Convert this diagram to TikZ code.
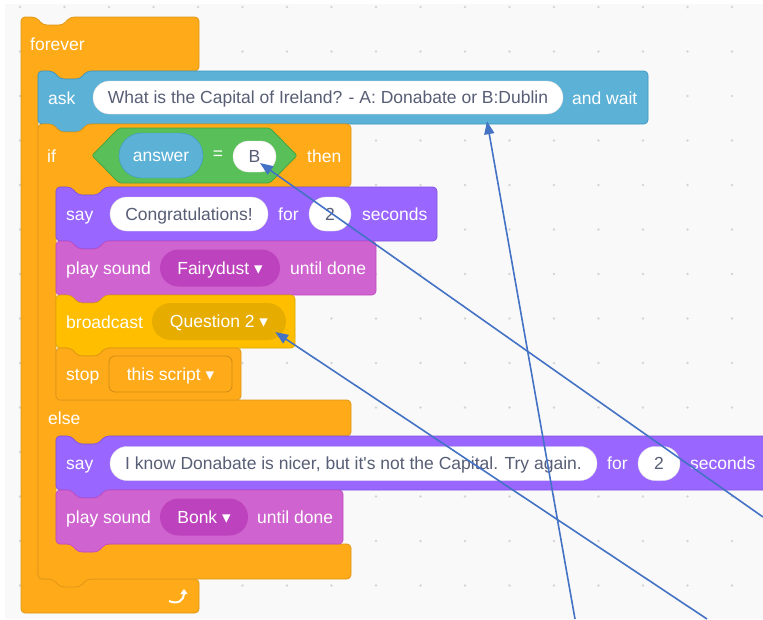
\documentclass[tikz,border=0pt]{standalone}
\usepackage{fontspec}
\setmainfont{Liberation Sans}
\newfontfamily\caretfont{DejaVu Sans}
\usepackage{tikz}
\usetikzlibrary{shapes.misc,arrows.meta,calc}
\pgfdeclarelayer{gridlayer}
\pgfdeclarelayer{blocklayer}
\pgfdeclarelayer{nodelayer}
\pgfsetlayers{gridlayer,blocklayer,nodelayer,main}
\definecolor{ctrl}{HTML}{FFAB19}
\definecolor{ctrldark}{HTML}{CF8B17}
\definecolor{sens}{HTML}{5CB1D6}
\definecolor{sensdark}{HTML}{2E8EB8}
\definecolor{oper}{HTML}{59C059}
\definecolor{operdark}{HTML}{389438}
\definecolor{looks}{HTML}{9966FF}
\definecolor{looksdark}{HTML}{774DCB}
\definecolor{sound}{HTML}{CF63CF}
\definecolor{sounddark}{HTML}{BD42BD}
\definecolor{event}{HTML}{FFBF00}
\definecolor{eventdark}{HTML}{CC9900}
\definecolor{eventmenu}{HTML}{E6AC00}
\definecolor{inputtext}{HTML}{575E75}
\definecolor{canvas}{HTML}{F9F9F9}
\definecolor{griddot}{HTML}{D6D6D6}
\definecolor{pointer}{HTML}{4472C4}
\tikzstyle{ctrlblock}=[fill=ctrl, draw=ctrldark!70!ctrl, line width=0.7pt]
\tikzstyle{sensblock}=[fill=sens, draw=sensdark!70!sens, line width=0.7pt]
\tikzstyle{operblock}=[fill=oper, draw=operdark!70!oper, line width=0.7pt]
\tikzstyle{looksblock}=[fill=looks, draw=looksdark!70!looks, line width=0.7pt]
\tikzstyle{soundblock}=[fill=sound, draw=sounddark!70!sound, line width=0.7pt]
\tikzstyle{eventblock}=[fill=event, draw=eventdark!70!event, line width=0.7pt]
\tikzstyle{wtext}=[anchor=base west, inner sep=0, text=white]
\tikzstyle{inbox}=[rounded rectangle, fill=white, draw=black!12, inner sep=0, text=inputtext, text height=12.5pt, text depth=0pt]
\tikzstyle{menu}=[rounded rectangle, inner sep=0, text=white, minimum height=37pt, text height=12.5pt, text depth=0pt]
\tikzstyle{callout}=[draw=pointer, line width=1.6pt, -{Triangle[length=13pt,width=10pt]}]
% stack block with notch on top and tab below: style, x1, y1, x2, y2
\newcommand{\stackblock}[5]{\draw[#1, rounded corners=4pt] (#2,#3) -- ({#2+15},#3) -- ({#2+22},{#3+8}) -- ({#2+42},{#3+8}) -- ({#2+49},#3) -- (#4,#3) -- (#4,#5) -- ({#2+49},#5) -- ({#2+42},{#5+8}) -- ({#2+22},{#5+8}) -- ({#2+15},#5) -- (#2,#5) -- cycle;}
\newcommand{\caret}{{\caretfont\fontsize{17}{17}\selectfont ▾}}

\begin{document}
\begin{tikzpicture}[x=1pt, y=-1pt, font=\fontsize{17.5}{21}\selectfont]
	\useasboundingbox (0,0) rectangle (763,619);
	\begin{pgfonlayer}{gridlayer}
		\fill[white] (0,0) rectangle (763,619);
		\fill[canvas] (5,4) rectangle (763,619);
		\foreach \i in {0,...,16}
			\foreach \j in {0,...,13}
				\fill[griddot] ({20+44.5*\i},{7+44.5*\j}) circle (1.3pt);
	\end{pgfonlayer}
	\begin{pgfonlayer}{blocklayer}
		% forever
		\draw[ctrlblock, rounded corners=4pt] (21,17) -- (36,17) -- (43,25) -- (63,25) -- (70,17) -- (199,17) -- (199,71) -- (87,71) -- (80,79) -- (60,79) -- (53,71) -- (38,71) -- (38,579) -- (199,579) -- (199,613) -- (21,613) -- cycle;
		\stackblock{sensblock}{38}{71}{648}{124}
		% if / else
		\draw[ctrlblock, rounded corners=4pt] (38,124) -- (53,124) -- (60,132) -- (80,132) -- (87,124) -- (351,124) -- (351,187) -- (105,187) -- (98,195) -- (78,195) -- (71,187) -- (56,187) -- (56,400) -- (351,400) -- (351,436) -- (105,436) -- (98,444) -- (78,444) -- (71,436) -- (56,436) -- (56,544) -- (351,544) -- (351,579) -- (87,579) -- (80,587) -- (60,587) -- (53,579) -- (38,579) -- cycle;
		\draw[operblock, rounded corners=2pt] (92,155.5) -- (119,128) -- (270,128) -- (297,155.5) -- (270,183) -- (119,183) -- cycle;
		\stackblock{looksblock}{56}{187}{437}{241}
		\stackblock{soundblock}{56}{241}{376}{295}
		\stackblock{eventblock}{56}{295}{295}{348}
		\draw[ctrlblock, rounded corners=4pt] (56,348) -- (71,348) -- (78,356) -- (98,356) -- (105,348) -- (241,348) -- (241,400) -- (56,400) -- cycle;
		\stackblock{looksblock}{56}{436}{772}{490}
		\stackblock{soundblock}{56}{490}{343}{544}
		\draw[white, line width=2pt, -{Triangle[length=5pt,width=7pt]}] (169,601) .. controls (178,605) and (184,600) .. (184,589);
	\end{pgfonlayer}
	\begin{pgfonlayer}{nodelayer}
		\node [style=wtext] (5) at (30,50.5) {forever};
		\node [style=wtext] (6) at (48,104) {ask};
		\node [style=inbox, minimum width=470pt, minimum height=33pt] (1) at (328,97.5) {What is the Capital of Ireland? - A: Donabate or B:Dublin};
		\node [style=wtext] (7) at (572,104) {and wait};
		\node [style=wtext] (8) at (47,162) {if};
		\node [rounded rectangle, fill=sens, draw=sensdark!70!sens, inner sep=0, text=white, minimum width=84pt, minimum height=45pt, text height=12.5pt, text depth=0pt] (2) at (161,155.5) {answer};
		\node [text=white, inner sep=0] (9) at (218,155.5) {=};
		\node [style=inbox, minimum width=43pt, minimum height=31pt] (3) at (254.5,156.5) {B};
		\node [style=wtext] (10) at (307,162) {then};
		\node [style=wtext] (11) at (66,220.5) {say};
		\node [style=inbox, minimum width=158pt, minimum height=34pt] (12) at (189,214) {Congratulations!};
		\node [style=wtext] (13) at (278,220.5) {for};
		\node [style=inbox, minimum width=42pt, minimum height=34pt] (14) at (330,214) {2};
		\node [style=wtext] (15) at (362,220.5) {seconds};
		\node [style=wtext] (16) at (66,274.5) {play sound};
		\node [style=menu, fill=sounddark, minimum width=120pt] (17) at (220,268) {Fairydust \caret};
		\node [style=wtext] (18) at (290,274.5) {until done};
		\node [style=wtext] (19) at (66,328) {broadcast};
		\node [style=menu, fill=eventmenu, minimum width=134pt] (4) at (219,321.5) {Question 2 \caret};
		\node [style=wtext] (20) at (66,380.5) {stop};
		\node [rectangle, rounded corners=6pt, fill=ctrl, draw=ctrldark, line width=0.8pt, inner sep=0, text=white, minimum width=123pt, minimum height=36pt, text height=12.5pt, text depth=0pt] (21) at (170.5,374) {this script \caret};
		\node [style=wtext] (22) at (48,424.5) {else};
		\node [style=wtext] (23) at (66,469.5) {say};
		\node [style=inbox, minimum width=487pt, minimum height=34pt] (24) at (353.5,463.5) {I know Donabate is nicer, but it\textquotesingle s not the Capital. Try again.};
		\node [style=wtext] (25) at (607,469.5) {for};
		\node [style=inbox, minimum width=42pt, minimum height=34pt] (26) at (659,463.5) {2};
		\node [style=wtext] (27) at (690,469.5) {seconds};
		\node [style=wtext] (28) at (66,523.5) {play sound};
		\node [style=menu, fill=sounddark, minimum width=88pt] (29) at (204,517) {Bonk \caret};
		\node [style=wtext] (30) at (257,523.5) {until done};
	\end{pgfonlayer}
	\coordinate (31) at (575,619);
	\coordinate (32) at (763,517);
	\coordinate (33) at (707,619);
	\draw [style=callout] (31) to ($(1.south)+(159,7)$);
	\draw [style=callout] (32) to ($(3.center)+(5.5,6.5)$);
	\draw [style=callout] (33) to ($(4.east)+(-11,10.5)$);
\end{tikzpicture}
\end{document}
